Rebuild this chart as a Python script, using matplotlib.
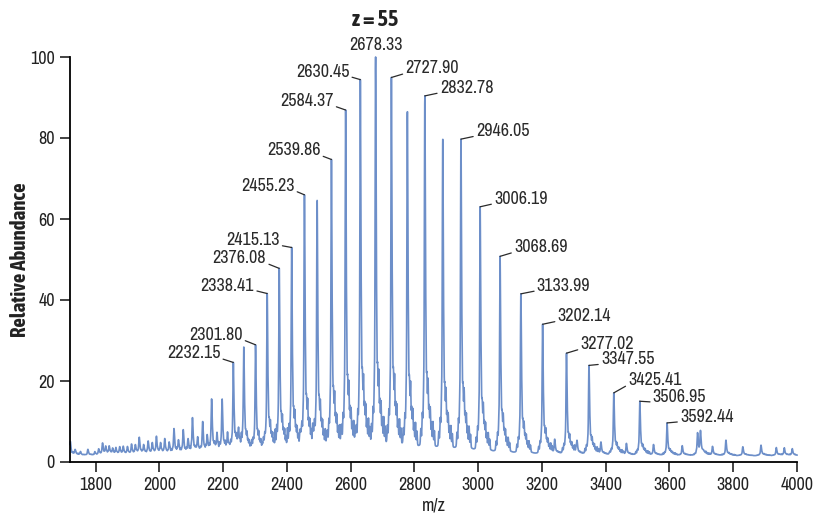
import numpy as np
import matplotlib.pyplot as plt
from matplotlib import font_manager as fm


def weight_of(f):
    w = f.weight
    return w if isinstance(w, int) else fm.weight_dict.get(w, 400)


# pick a narrow sans face if one is installed, otherwise plain Liberation Sans
fonts = fm.fontManager.ttflist
names = {f.name for f in fonts}
narrow = sorted(n for n in names if 'Narrow' in n or 'Condensed' in n)
narrow_bold = [n for n in narrow if any(f.name == n and weight_of(f) >= 600 for f in fonts)]
if 'Liberation Sans Narrow' in names:
    family = 'Liberation Sans Narrow'
elif narrow:
    family = narrow[0]
else:
    family = 'Liberation Sans'
bold_family = narrow_bold[0] if narrow_bold else family
if 'Liberation Sans Narrow' in narrow_bold:
    bold_family = 'Liberation Sans Narrow'
plt.rcParams['font.family'] = [family, 'DejaVu Sans']
fs = 13 if family != 'Liberation Sans' else 11

# labelled charge-state peaks (m/z, relative intensity)
label_mz = [2232.15, 2301.80, 2338.41, 2376.08, 2415.13, 2455.23, 2539.86,
            2584.37, 2630.45, 2678.33, 2727.90, 2832.78, 2946.05, 3006.19,
            3068.69, 3133.99, 3202.14, 3277.02, 3347.55, 3425.41, 3506.95,
            3592.44]
label_int = [22.0, 26.5, 39.0, 45.0, 50.0, 63.0, 71.5, 83.5, 91.0, 96.5,
             91.5, 87.5, 77.0, 60.5, 48.5, 39.5, 32.0, 25.0, 22.0, 15.3,
             13.3, 8.0]

# unlabelled peaks of the envelope and the low-mass series
other_mz = [1721, 1753, 1798, 1822, 1843, 1864, 1887, 1913, 1937, 1965,
            1991, 2017, 2046, 2075, 2104, 2136, 2164, 2197, 2265, 2495,
            2778, 2889, 3688, 3697, 3777, 3887, 3985]
other_int = [3.5, 0.8, 0.8, 2.8, 1.8, 1.4, 1.8, 2.3, 4.0, 3.0, 4.0, 3.4,
             6.0, 5.6, 8.5, 7.5, 13.0, 13.0, 25.5, 61.5, 83.5, 77.0, 5.2,
             5.2, 3.8, 2.6, 1.6]

# minor species between the main peaks
minor_mz = [1736, 1776, 1810, 1832, 1854, 1876, 1900, 1925, 1951, 1978,
            2004, 2031, 2060, 2090, 2120, 2150, 2181, 2214, 2248, 3240,
            3310, 3385, 3465, 3550, 3640, 3735, 3830, 3935, 3960]
minor_int = [1.2, 1.5, 1.4, 1.6, 1.3, 1.8, 1.7, 2.0, 1.9, 2.4, 2.2, 2.6,
             2.8, 3.0, 3.2, 3.4, 3.5, 3.6, 3.8, 3.5, 3.2, 3.0, 2.8, 2.6,
             2.4, 2.2, 2.2, 2.0, 1.8]

# adduct / salt satellites around every peak (m/z shift, fraction of peak)
adduct_shift = [-12.5, -8.0, -4.0, 3.0, 6.5, 10.0, 13.5, 17.0, 21.0, 25.5, 30.0]
adduct_ratio = [0.04, 0.06, 0.05, 0.16, 0.09, 0.12, 0.07, 0.08, 0.05, 0.06, 0.04]

x_ticks = [1800, 2000, 2200, 2400, 2600, 2800, 3000, 3200, 3400, 3600, 3800, 4000]
y_ticks = [0, 20, 40, 60, 80, 100]

# label placement: text offset from the peak top in pixels (dx, dy)
label_off = [(-13, 9), (-13, 10), (-13, 8), (-13, 10), (-12, 7), (-10, 9),
             (-11, 9), (-12, 9), (-11, 8), (0, 12), (14, 9), (15, 8),
             (15, 8), (14, 8), (14, 9), (16, 8), (15, 8), (14, 9),
             (12, 6), (14.5, 13), (13, 4), (13, 6)]

mz = np.arange(1720, 4000.01, 0.25)


def peak(center, height, width=1.3):
    d = mz - center
    core = 0.75 * np.exp(-0.5 * (d / width) ** 2) + 0.25 / (1 + (d / 4.0) ** 2)
    dp = np.clip(d, 0, None)
    tail = 0.10 * np.exp(-dp / 18.0) * (1 - np.exp(-dp / 2.0))
    return height * (core + tail)


def spike(center, height, width=1.1):
    return height * np.exp(-0.5 * ((mz - center) / width) ** 2)


signal = np.full_like(mz, 1.5)
for c, h in zip(label_mz + other_mz + minor_mz, label_int + other_int + minor_int):
    signal += peak(c, h)
    for s, r in zip(adduct_shift, adduct_ratio):
        signal += spike(c + s, h * r)
signal = 100 * signal / signal.max()

fig = plt.figure(figsize=(8.28, 5.16), dpi=100)
ax = fig.add_axes([70 / 828, 1 - 462 / 516, 727 / 828, 405 / 516])
ax.plot(mz, signal, color='#6d8fc9', lw=1.2, clip_on=False)
ax.set_xlim(1720, 4000)
ax.set_ylim(0, 100)

px = 0.72
for m, lab, (dx, dy) in zip(label_mz, label_mz, label_off):
    i = np.searchsorted(mz, m)
    top = signal[max(i - 8, 0):i + 8].max()
    text = f'{lab:.2f}'
    if dx == 0:
        ax.annotate(text, xy=(m, top), xytext=(0, dy * px), textcoords='offset points',
                    ha='center', va='center', fontsize=fs, color='#2a2a2a')
        continue
    ha = 'right' if dx < 0 else 'left'
    rel = (1, 0.2) if dx < 0 else (0, 0.2)
    ax.annotate(text, xy=(m, top), xytext=(dx * px, dy * px), textcoords='offset points',
                ha=ha, va='center', fontsize=fs, color='#2a2a2a',
                arrowprops=dict(arrowstyle='-', color='#2a2a2a', lw=0.9,
                                shrinkA=0, shrinkB=0, relpos=rel))

for side in ('top', 'right'):
    ax.spines[side].set_visible(False)
for side in ('left', 'bottom'):
    ax.spines[side].set_linewidth(1.3)
ax.set_xticks(x_ticks)
ax.set_yticks(y_ticks)
ax.tick_params(length=7, width=1.2, labelsize=fs, colors='#222222', pad=4)

ax.set_xlabel('m/z', fontsize=fs, color='#222222', va='center')
ax.xaxis.set_label_coords(0.5, -0.108)
ax.set_ylabel('Relative Abundance', fontsize=fs + 2, fontweight='bold', color='#222222',
              va='center', family=[bold_family, 'DejaVu Sans'])
ax.yaxis.set_label_coords(-0.069, 0.5)

fig.text(375.5 / 828, 1 - 19.5 / 516, 'z = 55', ha='center', va='center',
         fontsize=fs + 3, fontweight='bold', color='#222222',
         family=[bold_family, 'DejaVu Sans'])

fig.savefig('out.png', dpi=100)
